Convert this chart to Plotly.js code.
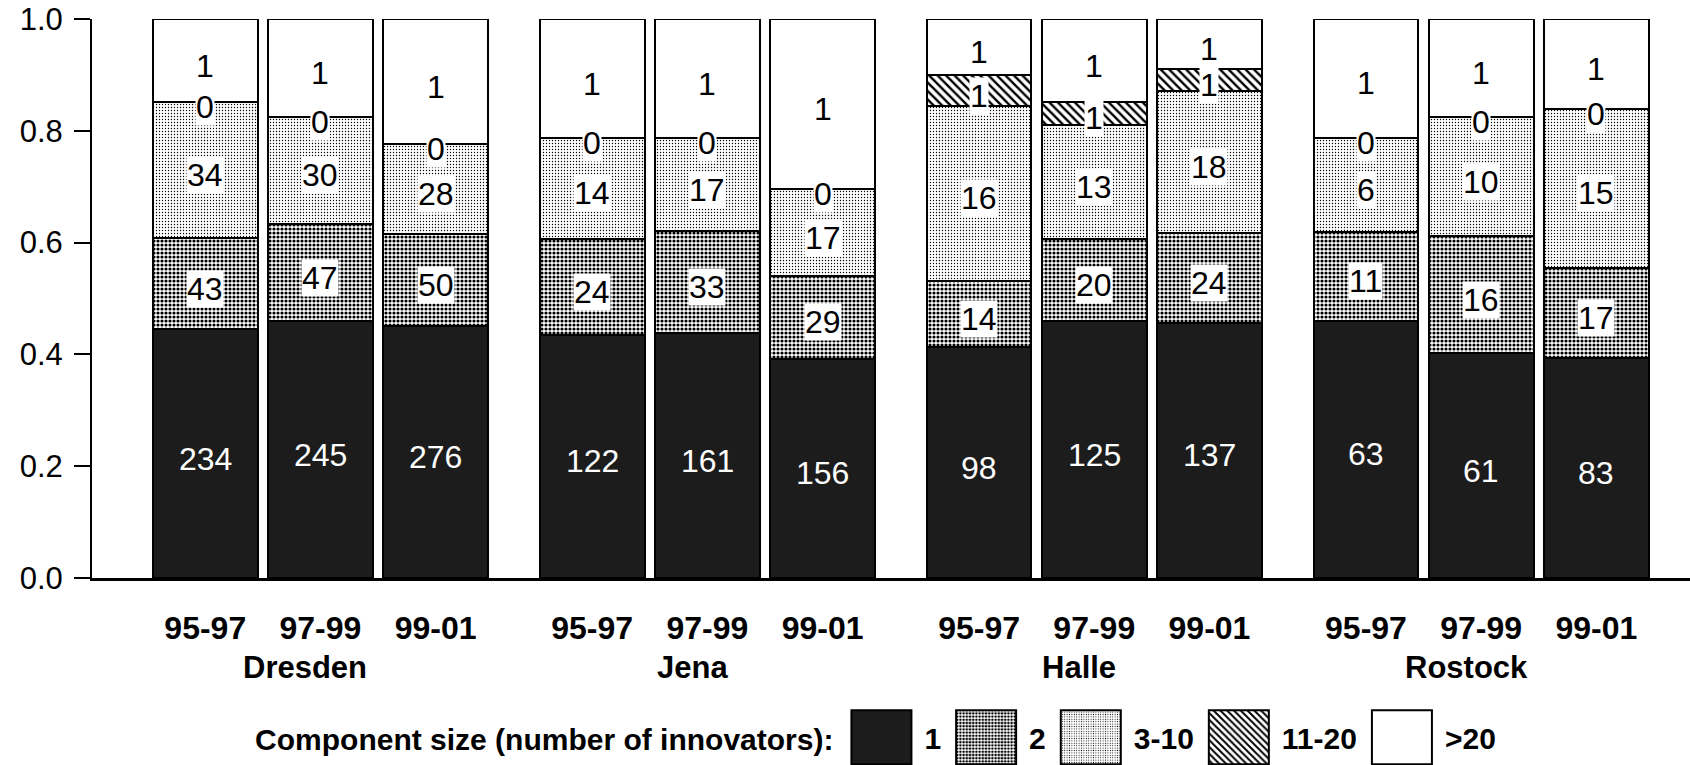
<!DOCTYPE html>
<html><head><meta charset="utf-8">
<script src="https://cdn.plot.ly/plotly-3.0.1.min.js"></script>
<style>html,body{margin:0;padding:0;background:#fff;} #chart{width:1690px;height:765px;}</style>
</head><body><div id="chart"></div>
<script>
// ---- data ----
const cities = ['Dresden', 'Jena', 'Halle', 'Rostock'];
const periods = ['95-97', '97-99', '99-01'];
const seriesNames = ['1', '2', '3-10', '11-20', '>20'];
// share of innovators by component size class (bars ordered city x period)
const share1      = [0.445, 0.459, 0.451, 0.435, 0.438, 0.392, 0.413, 0.459, 0.457, 0.460, 0.402, 0.394];
const share2      = [0.163, 0.175, 0.165, 0.172, 0.182, 0.149, 0.119, 0.148, 0.160, 0.159, 0.209, 0.161];
const share3to10  = [0.243, 0.191, 0.160, 0.180, 0.167, 0.154, 0.313, 0.204, 0.255, 0.169, 0.213, 0.284];
const share11to20 = [0, 0, 0, 0, 0, 0, 0.054, 0.040, 0.039, 0, 0, 0];
const shareOver20 = [0.149, 0.175, 0.224, 0.213, 0.213, 0.305, 0.101, 0.149, 0.089, 0.212, 0.176, 0.161];
// number of components (bar labels)
const count1      = [234, 245, 276, 122, 161, 156, 98, 125, 137, 63, 61, 83];
const count2      = [43, 47, 50, 24, 33, 29, 14, 20, 24, 11, 16, 17];
const count3to10  = [34, 30, 28, 14, 17, 17, 16, 13, 18, 6, 10, 15];
const count11to20 = [0, 0, 0, 0, 0, 0, 1, 1, 1, 0, 0, 0];
const countOver20 = [1, 1, 1, 1, 1, 1, 1, 1, 1, 1, 1, 1];
const legendTitle = 'Component size (number of innovators):';

// ---- layout helpers ----
const shares = [share1, share2, share3to10, share11to20, shareOver20];
const counts = [count1, count2, count3to10, count11to20, countOver20];
const GROUP_STEP = 3.3585;
const xs = [], tickText = [];
cities.forEach((c, g) => periods.forEach((p, k) => { xs.push(g * GROUP_STEP + k); tickText.push(p); }));

const FONT = 'Liberation Sans, Arial, Helvetica, sans-serif';
const styles = [
  { color: '#1c1c1c' },
  { color: '#ffffff', pattern: { shape: '.', fgcolor: '#000', bgcolor: '#fff', size: 4, solidity: 0.5 } },
  { color: '#ffffff', pattern: { shape: '.', fgcolor: '#000', bgcolor: '#fff', size: 3, solidity: 0.16 } },
  { color: '#ffffff', pattern: { shape: '\\', fgcolor: '#000', bgcolor: '#fff', size: 6, solidity: 0.4 } },
  { color: '#ffffff' }
];

const traces = seriesNames.map((name, s) => {
  const marker = { color: styles[s].color, line: { color: '#000', width: 2 } };
  if (styles[s].pattern) marker.pattern = styles[s].pattern;
  return { type: 'bar', name: name, x: xs, y: shares[s], width: 0.91, marker: marker, hoverinfo: 'skip' };
});

const annotations = [];
xs.forEach((x, i) => {
  let base = 0;
  shares.forEach((arr, s) => {
    const h = arr[i];
    const a = {
      x: x, y: base + h / 2, xref: 'x', yref: 'y', text: String(counts[s][i]),
      showarrow: false, yshift: -5, borderpad: 0,
      font: { family: FONT, size: 32, color: s === 0 ? '#fff' : '#000' }
    };
    if (s !== 0) a.bgcolor = '#fff';
    annotations.push(a);
    base += h;
  });
});
cities.forEach((c, g) => {
  annotations.push({
    x: g * GROUP_STEP + 1, y: -0.16, xref: 'x', yref: 'paper', text: c, showarrow: false,
    xshift: -15, yanchor: 'middle', font: { family: FONT, size: 31, color: '#000', weight: 'bold' }
  });
});

const layout = {
  width: 1690, height: 765,
  margin: { l: 92, r: 0, t: 19, b: 187, pad: 0 },
  paper_bgcolor: '#fff', plot_bgcolor: '#fff',
  barmode: 'stack', showlegend: true,
  font: { family: FONT, color: '#000' },
  xaxis: {
    range: [-0.983, 12.888], tickvals: xs, ticktext: tickText, ticks: '',
    showline: true, linecolor: '#000', linewidth: 3, showgrid: false, zeroline: false,
    tickfont: { family: FONT, size: 32, color: '#000', weight: 'bold' }, ticklabelstandoff: 20,
    fixedrange: true
  },
  yaxis: {
    range: [0, 1], tickvals: [0, 0.2, 0.4, 0.6, 0.8, 1.0], tickformat: '.1f',
    ticks: 'outside', ticklen: 16, tickwidth: 2, tickcolor: '#000',
    showline: true, linecolor: '#000', linewidth: 2, showgrid: false, zeroline: false,
    tickfont: { family: FONT, size: 31, color: '#000' }, ticklabelstandoff: 5,
    ticklabeloverflow: 'allow', fixedrange: true
  },
  legend: {
    orientation: 'h', x: 0.1008, xanchor: 'left', y: -0.285, yanchor: 'middle',
    itemwidth: 73, traceorder: 'normal', itemclick: false, itemdoubleclick: false,
    bgcolor: 'rgba(0,0,0,0)',
    font: { family: FONT, size: 30, color: '#000', weight: 'bold' },
    title: { text: legendTitle, side: 'left', font: { family: FONT, size: 30, color: '#000', weight: 'bold' } }
  },
  annotations: annotations
};

function enlargeLegend() {
  const gd = document.getElementById('chart');
  gd.querySelectorAll('.legend .legendpoints path').forEach(p => p.setAttribute('d', 'M-31.5,27V-27H28.5V27Z'));
  gd.querySelectorAll('.legend [clip-path]').forEach(e => e.removeAttribute('clip-path'));
}
Plotly.newPlot('chart', traces, layout, { staticPlot: true, displayModeBar: false }).then(gd => {
  enlargeLegend();
  gd.on('plotly_afterplot', enlargeLegend);
});
</script>
</body></html>
